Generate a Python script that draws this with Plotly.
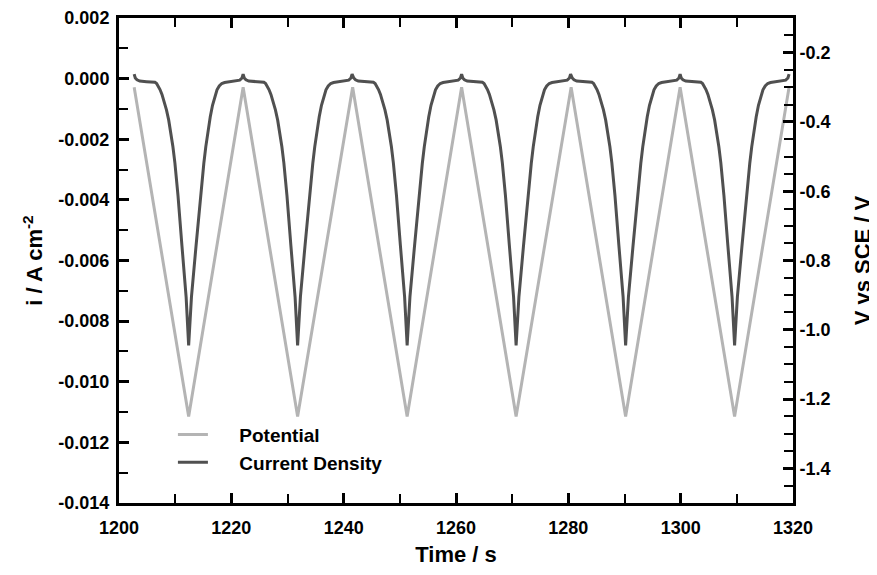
import plotly.graph_objects as go

# ---- data ----
# Potential (triangular sweep) vertices: time (s) and potential (V vs SCE)
pot_time = [1202.7, 1212.4, 1222.1, 1231.8, 1241.6, 1251.3, 1261.0,
            1270.7, 1280.5, 1290.2, 1299.9, 1309.6, 1319.3]
pot_volt = [-0.30, -1.25, -0.30, -1.25, -0.30, -1.25, -0.30,
            -1.25, -0.30, -1.25, -0.30, -1.25, -0.30]

# Times of the current-density minima (one per sweep cycle)
cycle_min_time = [1212.4, 1231.8, 1251.3, 1270.7, 1290.2, 1309.6]

# Current-density shape of one cycle, read around a minimum (offset s, A cm^-2)
profile_dt = [-9.7, -9.5, -9.2, -8.7, -7.5, -6.5, -6.0, -5.7, -5.4, -5.1,
              -4.75, -4.35, -3.95, -3.55, -3.15, -2.8, -2.45, -1.9, -1.2, -0.45, 0.0,
              0.5, 1.3, 2.05, 2.7, 3.05, 3.45, 3.85, 4.25, 4.65, 5.05, 5.45,
              5.9, 6.4, 7.2, 8.4, 9.1, 9.5, 9.7]
profile_i = [0.00015, 0.00002, -0.00004, -0.00008, -0.00010, -0.00011, -0.00012,
             -0.00016, -0.00024, -0.00036, -0.00052, -0.00075, -0.00103, -0.00137,
             -0.00180, -0.00225, -0.00278, -0.00385, -0.00550, -0.00720, -0.00880,
             -0.00720, -0.00555, -0.00395, -0.00280, -0.00225, -0.00172,
             -0.00126, -0.00088, -0.00058, -0.00037, -0.00024,
             -0.00016, -0.00013, -0.00011, -0.00009, -0.00005, 0.00002, 0.00015]

# Tick labels (hyphen minus as in the reference)
y_tickvals = [-0.014, -0.012, -0.010, -0.008, -0.006, -0.004, -0.002, 0.000, 0.002]
y_ticktext = ["-0.014", "-0.012", "-0.010", "-0.008", "-0.006", "-0.004", "-0.002", "0.000", "0.002"]
y2_tickvals = [-1.4, -1.2, -1.0, -0.8, -0.6, -0.4, -0.2]
y2_ticktext = ["-1.4", "-1.2", "-1.0", "-0.8", "-0.6", "-0.4", "-0.2"]
x_tickvals = [1200, 1220, 1240, 1260, 1280, 1300, 1320]
x_ticktext = ["1200", "1220", "1240", "1260", "1280", "1300", "1320"]

cur_time, cur_dens = [], []
for k, tm in enumerate(cycle_min_time):
    start = 0 if k == 0 else 1
    for dt, iv in zip(profile_dt[start:], profile_i[start:]):
        cur_time.append(round(tm + dt, 3))
        cur_dens.append(iv)

FONT = "Liberation Sans, Arial, Helvetica, sans-serif"
NB = "\u00a0"

fig = go.Figure()
fig.add_trace(go.Scatter(
    x=pot_time, y=pot_volt, yaxis="y2", mode="lines",
    name=NB * 5 + "Potential",
    line=dict(color="#b4b4b4", width=3)))
fig.add_trace(go.Scatter(
    x=cur_time, y=cur_dens, mode="lines",
    name=NB * 5 + "Current Density",
    line=dict(color="#505050", width=3)))

axis_common = dict(
    showline=True, linewidth=3, linecolor="black",
    ticks="inside", ticklen=10, tickwidth=3, tickcolor="black",
    showgrid=False, zeroline=False, automargin=False,
    tickmode="array",
    tickfont=dict(family=FONT, size=18, color="black", weight="bold"),
)
TITLE_FONT = dict(family=FONT, size=22, color="black", weight="bold")

# page body adds an 8px offset, so the figure is sized to fit inside the window
fig.update_layout(
    width=869, height=567,
    margin=dict(l=110.5, r=83.5, t=10, b=72),
    paper_bgcolor="white", plot_bgcolor="white",
    showlegend=True,
    legend=dict(x=0.08, y=0.112, xanchor="left", yanchor="middle",
                bgcolor="rgba(0,0,0,0)", itemwidth=30,
                font=dict(family=FONT, size=19, color="black", weight="bold")),
    xaxis=dict(
        range=[1200, 1320], tickvals=x_tickvals, ticktext=x_ticktext,
        mirror="ticks", ticklabelstandoff=6,
        minor=dict(tickmode="linear", tick0=1200, dtick=10, ticks="inside",
                   ticklen=9, tickwidth=1.5, tickcolor="black"),
        title=dict(text="Time / s", standoff=11, font=TITLE_FONT),
        **axis_common),
    yaxis=dict(
        range=[-0.014, 0.002], tickvals=y_tickvals, ticktext=y_ticktext,
        ticklabelstandoff=3,
        minor=dict(tickmode="linear", tick0=0, dtick=0.001, ticks="inside",
                   ticklen=9, tickwidth=1.5, tickcolor="black"),
        title=dict(text="i / A cm<sup>-2</sup>", standoff=10, font=TITLE_FONT),
        **axis_common),
    yaxis2=dict(
        range=[-1.5, -0.1], tickvals=y2_tickvals, ticktext=y2_ticktext,
        overlaying="y", side="right",
        minor=dict(tickmode="linear", tick0=-0.2, dtick=0.05, ticks="inside",
                   ticklen=9, tickwidth=1.5, tickcolor="black"),
        title=dict(text="V vs SCE / V", standoff=25, font=TITLE_FONT),
        **axis_common),
)

fig.write_html("out.html")
